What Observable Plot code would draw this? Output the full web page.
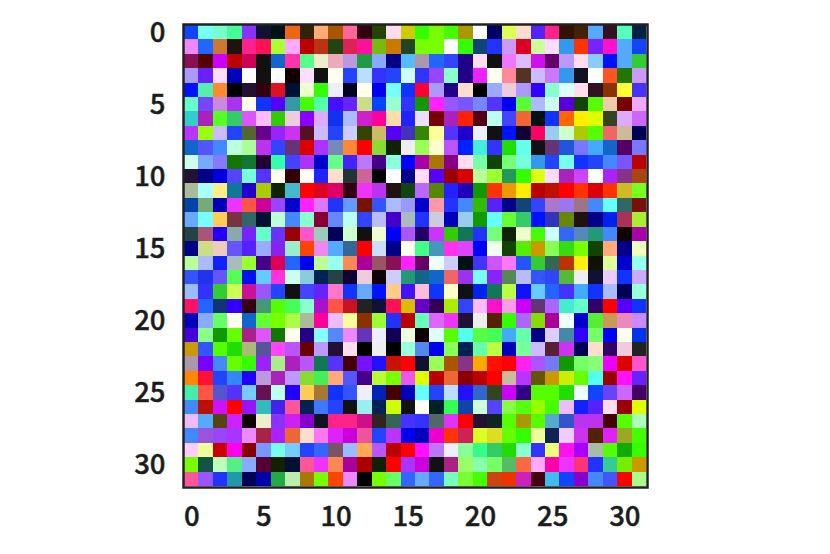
<!DOCTYPE html>
<html><head><meta charset="utf-8">
<style>html,body{margin:0;padding:0;background:#fff}svg{display:block}svg text{stroke:#1c1c1c;stroke-width:.45px}</style>
<script src="https://cdn.jsdelivr.net/npm/d3@7"></script>
<script src="https://cdn.jsdelivr.net/npm/@observablehq/plot@0.6"></script>
</head><body><div id="c"></div>
<script>
const row00="14f 7ff 7fc 4f9 83f 113 011 e61 320 fa7 a50 f69 301 240 fde cc0 3f0 7f0 4f0 a90 fff 006 df5 fdc 52f f28 310 420 5af 312 5fb 024";
const row01="e8f 26f c73 211 f28 f15 af3 faf b00 b31 241 d25 f19 7b1 c70 242 7f0 7f0 fff 3f0 147 23f c9f d02 cf9 fdf 39e f30 72f f1c 5af 14f";
const row02="815 500 c0f b00 c05 111 16c f3a 5f8 eec eab b9d 294 8af 008 5bf a9a 26f 34f 208 fde 111 e7f dbf c1e 606 b9f fde 8cf 01f 5af 3c3";
const row03="a9f 62f fdf 00b fff 111 fff 100 fdf 111 ffe 24f bdf 33f 24f cff 33f 94f 8fc 208 e2f ffe f89 532 cbf c7f 39e 112 fff f52 270 c9f";
const row04="01f 5ea f83 000 213 301 d12 013 efc 3f0 eef 002 ffe 00e 7ff 13f f03 a9f 208 fdc 000 9af ecd a9f 30f 8fc dff fde 312 830 ff3 43f";
const row05="6fc 74f c8d a3e ffe 13f 50f 39a 4f0 5fa 41f 62f cd8 04f 9fc 33f 190 f2f 95f 75f 78f 53f 00e 5f3 abf cfe 50d 140 5f0 eca 700 eaf";
const row06="3cc a2b 5f2 3c6 d5f fbf 3c0 ecd 80f daf 13e abf c2c f09 fda 22f edf 700 a2b f20 501 bfe 44f e63 011 13f f60 fe0 df0 342 daf c6f";
const row07="b3f 9f1 cbf 24f 563 608 92f c3e 512 cbf 24f ccf 340 cb6 50f 43b 380 ff9 53f 20c eef 111 01f 103 f06 9ce cfc ac0 5f0 e66 cb9 005";
const row08="16c 55f 48f bfd af9 b3e 34f 637 d00 a3f 78b f83 f00 8d3 120 eee 9f5 ffc b5f 02f 4ed 33f 2d0 6fe 111 637 25d 77f 4af 16c 506 77f";
const row09="cfe 7af 87f 170 173 203 3fa 44f a3f 00c 6f8 42f b7f 408 8fd 00f a0a a70 808 fde 7fa 140 7f7 7fd 39e 24f 7fe 13f 24f 48f 75f b00";
const row10="213 008 00d 54f 7fd 53f ffe 300 fff 22f fdc 233 c69 000 fff 008 fdf 50f 900 d00 bf9 9f3 295 3f0 df1 fdf a2b c4f fff a2f 838 a41";
const row11="ab9 aff fe8 179 20c ac0 120 4bc f00 d02 d06 301 e3f b3e 211 141 b6f 580 22f 20b 190 f30 e90 fe0 b00 b10 f00 f30 d00 f30 cb2 7f2";
const row12="04a 7a7 00b e3f f54 c09 94f 00c f2f d7f 23f 69f 710 35f abf 99f 00c f9a 23f 48f 3b0 52f 008 147 34f a7c 97e 978 48f 6ff 366 710";
const row13="6af 7ff fc5 734 366 013 bfd 48f 8fc 803 68f bfe 34f bbf 40c abb 23f ccd 00b 9ce 190 6ff 6f3 3c6 01f 33b 680 211 008 02e a35 ae3";
const row14="244 a57 20f 8aa 72f 6fc 63f 900 f5c 9cb 005 cfc 111 efc 00f a5f 206 c3f 3c0 175 23f 7f7 120 efc 4f0 cff 36f 58b 297 48f 100 a0a";
const row15="008 cd8 ecb 65f 52f 9af 82e 9ec f40 e8e 5af 369 f00 cdf 008 ffe 4f8 49b f3e d4f 00f efe 140 5e0 c90 8f5 3d1 7f0 140 fa7 008 efb";
const row16="bf9 abf 12f abb 9f3 408 d05 26f 00e bf9 9fe f85 a09 956 815 f2f 606 eff ccf 011 43f c5f f7f 25f 3c3 365 b30 fe1 110 df9 00c 9fe";
const row17="35f 23e 65f 5f5 01e 6cf f3d cfe 8cd 025 244 103 ecd 100 ccf 297 168 16c e66 93e 7ff 82f 585 bbf 35f 34f 5b3 eee 113 ecf 13f caf";
const row18="9bf 33f 3c3 cf5 c19 95f 24f 111 44f 62f f7c 13f 6af 01f fc8 41f fbd 13f ffc 111 02e 175 bf4 11f 6cf 26f 43f 4af 13f abf 005 9fd";
const row19="f16 26f 137 30f 301 497 5f0 4f5 8fc a1c f54 c12 222 113 f15 db0 60c 305 ae0 34f fbf f1c f9e c0f 637 a6f 4ec 6fc 306 f00 50f 13f";
const row20="00b 8af 6f6 ffe 16c 6f3 7f0 af4 ab9 f09 ebf ff9 830 9f3 23f b00 6fb d6f e3f 213 eee 520 3f0 a6f 8d0 a09 eff 00c 5e3 c95 e8b c8f";
const row21="40d 8f8 190 6f0 a28 d5f 170 ffe 208 8ff 58f e8f 63b eef 105 efd 100 dff 5f0 5fe 5f4 4f5 4af 6fa 008 dcf 48a 30f 7f6 00f ffe 03e";
const row22="c90 35f 5f0 2d0 ab7 559 f4f b5f 600 b9f 213 fde 000 eee 000 9fd 58e 00e 8f5 025 6fa bf4 00b 7f9 cbf 523 c3e 005 fdc 306 ecd 222";
const row23="a9a 70f 48f 6f0 3f0 92f ae8 a2b b5f 175 53f 400 71f 21f c10 f00 113 9f5 a50 838 fa0 f10 f00 f2e a5f 77f 190 7f6 8f7 e0f d00 f5c";
const row24="f80 f13 24f 38f 20f b9d a2b b9f 8d3 4e5 fa7 55f 408 bf3 7f0 e5e df0 b00 e63 800 b00 f00 cb9 b3f 650 c90 ce0 6f0 5fe 900 f1f 62f";
const row25="4ea f54 55c 53f 7cf 615 bfe 20f fc5 a73 13f 35f eef 02b 400 00b 6ff 24f bdf 21f 36c 342 c0f 308 5f0 5f0 2d0 eff 14f 64f c6f 406";
const row26="48f b10 c1f f00 91f 3bb 42e f59 025 47f 24f 111 9ee 025 cf0 111 fff 022 3f5 14a cfd 54f 8f4 5f1 9f0 4f0 ebf 12f 52f fde 900 df0";
const row27="ebf 5af 541 c2f 100 eec 83f c2e 80c 112 f28 f28 c18 322 365 43f 33f 566 d3f f00 213 122 5f0 a90 5f0 5ac 35c b3e b3e 400 5f0 afb";
const row28="48f 95d 94f a3f e8f a24 a2f e63 fdc f7e d2f c0d e59 24f b3f 00e 00b e0c f30 c25 df2 dd2 6f0 3f0 ef9 125 ecf c3e 520 d2f 9a2 4f0";
const row29="fcf ef9 c00 f0e 800 79f 7fe 7cf 24f 36f 756 9bf fa5 b5f b00 f00 f1f b7f eef 8f9 3f8 3c6 2d0 8fc 33f ef7 f1e a0f aba 5f0 1a0 3f0";
const row30="7f0 154 bfb 5e8 8af 503 120 013 f59 e3f f85 a09 a00 120 f00 a3f c0d 111 a28 9f6 8fa 7f6 5b6 f64 faf f0a e3f f37 23f 3c9 7e0 c90";
const row31="f59 95f 23f 29a 005 00a 2a4 bea a70 7f0 f40 e8f 000 7f0 6f6 36f 6af 36f 7fb 7f3 4f0 c41 e30 c2b 401 4be 14f 80c 48f 45f f00 af8";
const rows=[row00,row01,row02,row03,row04,row05,row06,row07,row08,row09,row10,row11,row12,row13,row14,row15,row16,row17,row18,row19,row20,row21,row22,row23,row24,row25,row26,row27,row28,row29,row30,row31];
const tickValues=[0,5,10,15,20,25,30];
const cells=rows.flatMap((r,y)=>r.split(" ").map((c,x)=>({x,y,c:"#"+c})));
const idx=d3.range(32);
const tickStyle={fontFamily:"Noto Sans CJK KR",fontWeight:500,fontSize:27.5};
const plot=Plot.plot({
  width:830,height:554,marginLeft:184,marginRight:184,marginTop:25,marginBottom:68,
  style:{background:"#fff"},
  x:{domain:idx,padding:0,round:false,axis:null},
  y:{domain:idx,padding:0,round:false,axis:null},
  color:{type:"identity"},
  marks:[
    Plot.cell(cells,{x:"x",y:"y",fill:"c",shapeRendering:"crispEdges"}),
    Plot.frame({stroke:"#222",strokeWidth:2.5,inset:-1}),
    Plot.axisX({ticks:tickValues,tickFormat:d=>d,tickSize:0,tickPadding:20,anchor:"bottom",label:null,...tickStyle,color:"#1c1c1c"}),
    Plot.axisY({ticks:tickValues,tickFormat:d=>d,tickSize:0,tickPadding:19,anchor:"left",label:null,...tickStyle,color:"#1c1c1c"})
  ]
});
document.getElementById("c").appendChild(plot);
</script></body></html>
